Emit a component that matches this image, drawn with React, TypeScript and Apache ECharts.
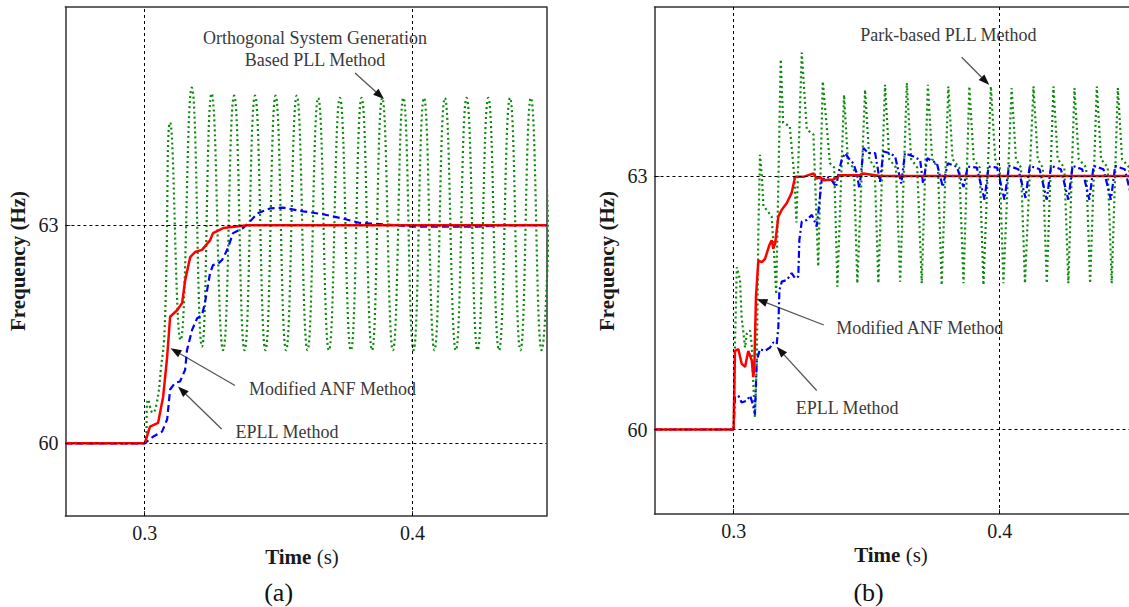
import React, { useEffect, useRef } from "react";
import * as echarts from "echarts";

const FONT = "Liberation Serif";

// axis ranges and tick values
const xTickValues = [0.3, 0.4];
const yTickValues = [60, 63];
const xRangeA = [0.2704, 0.45];
const yRangeA = [59, 66];
const xRangeB = [0.27026, 0.4486];
const yRangeB = [59, 65];

// ---------- panel (a) ----------
const greenA: number[][] = [
  [0.2704, 60], [0.3, 60], [0.3013, 60.6], [0.303, 60.42], [0.3045, 60.55], [0.306, 61.0], [0.3075, 61.6],
  [0.3095, 64.41], [0.3134, 61.42], [0.3176, 64.89], [0.3214, 61.33], [0.325, 64.81], [0.3293, 61.28],
  [0.3334, 64.78], [0.3373, 61.28], [0.3412, 64.78], [0.3451, 61.28], [0.3489, 64.78], [0.3528, 61.28],
  [0.3568, 64.78], [0.3608, 61.28], [0.3648, 64.75], [0.3688, 61.28], [0.3729, 64.75], [0.377, 61.28],
  [0.381, 64.75], [0.3849, 61.28], [0.3887, 64.75], [0.3927, 61.28], [0.3966, 64.75], [0.4004, 61.28],
  [0.4043, 64.75], [0.4082, 61.28], [0.4121, 64.75], [0.4162, 61.28], [0.4202, 64.75], [0.4243, 61.28],
  [0.4283, 64.75], [0.4323, 61.28], [0.4364, 64.75], [0.4403, 61.28], [0.4442, 64.75], [0.4482, 61.28],
  [0.4522, 64.75],
];
const blueA: number[][] = [
  [0.2704, 60], [0.3, 60], [0.3031, 60.09], [0.3065, 60.16], [0.3084, 60.33], [0.3095, 60.74], [0.3113, 60.83],
  [0.3132, 60.85], [0.3151, 61.01], [0.3158, 61.28], [0.3177, 61.56], [0.3196, 61.72], [0.3214, 61.76],
  [0.3225, 61.93], [0.3244, 62.34], [0.3255, 62.45], [0.3274, 62.47], [0.3289, 62.52], [0.3308, 62.66],
  [0.333, 62.89], [0.3367, 62.96], [0.3386, 63.02], [0.342, 63.16], [0.3468, 63.23], [0.3517, 63.24],
  [0.3592, 63.19], [0.3666, 63.15], [0.3741, 63.09], [0.3804, 63.03], [0.3853, 63.02], [0.4002, 62.98],
  [0.4241, 62.98], [0.4327, 63.0], [0.45, 63.0],
];
const redA: number[][] = [
  [0.2704, 60], [0.3, 60], [0.302, 60.23], [0.305, 60.28], [0.3069, 60.64], [0.3084, 61.19], [0.3095, 61.74],
  [0.3121, 61.83], [0.314, 61.93], [0.3151, 62.24], [0.317, 62.56], [0.3188, 62.63], [0.3214, 62.66],
  [0.3244, 62.79], [0.3255, 62.89], [0.3293, 62.96], [0.3382, 63.0], [0.45, 63.0],
];

// ---------- panel (b) ----------
const greenB: number[][] = [
  [0.2703, 60], [0.3, 60], [0.3005, 61.0], [0.3012, 61.92], [0.3024, 61.77], [0.303, 61.33], [0.3043, 60.97],
  [0.3049, 61.13], [0.3062, 61.17], [0.3068, 61.0], [0.3074, 60.54], [0.308, 60.14], [0.3087, 60.78],
  [0.3093, 62.36], [0.3099, 63.25], [0.3106, 63.0], [0.3112, 62.64], [0.3124, 62.6], [0.3143, 62.52],
  [0.3152, 62.08], [0.316, 61.6], [0.3177, 64.38], [0.3186, 63.63], [0.3211, 63.59], [0.3228, 63.0],
  [0.3236, 62.45], [0.3256, 64.46], [0.3275, 63.55], [0.33, 63.49], [0.3318, 61.93], [0.3335, 64.12],
  [0.3362, 63.15], [0.3378, 63.1], [0.339, 61.69], [0.3415, 63.96], [0.343, 63.15], [0.3452, 63.1],
  [0.3465, 61.73], [0.3494, 64.02], [0.351, 63.2], [0.353, 63.1], [0.3544, 61.73], [0.3569, 64.08],
  [0.3585, 63.2], [0.361, 63.1], [0.3626, 61.75], [0.3651, 64.1], [0.3667, 63.2], [0.369, 63.1],
  [0.3707, 61.73], [0.373, 64.08], [0.3746, 63.2], [0.3768, 63.1], [0.3782, 61.71], [0.3807, 64.06],
  [0.3823, 63.2], [0.3848, 63.1], [0.3864, 61.73], [0.3886, 64.06], [0.3902, 63.2], [0.3925, 63.1],
  [0.3939, 61.71], [0.3967, 64.06], [0.3983, 63.2], [0.4, 63.1], [0.4014, 61.73], [0.4045, 64.04],
  [0.4061, 63.2], [0.408, 63.1], [0.4095, 61.73], [0.4127, 64.06], [0.4143, 63.2], [0.4162, 63.1],
  [0.4177, 61.73], [0.4202, 64.06], [0.4218, 63.2], [0.4243, 63.1], [0.4258, 61.73], [0.4281, 64.04],
  [0.4297, 63.2], [0.4325, 63.1], [0.434, 61.73], [0.4365, 64.06], [0.4381, 63.2], [0.4406, 63.1],
  [0.4421, 61.73], [0.4444, 64.04], [0.446, 63.2], [0.4487, 63.1], [0.4502, 61.73], [0.4525, 64.05],
];
const blueB: number[][] = [
  [0.2703, 60], [0.3, 60], [0.3005, 60.38], [0.3018, 60.4], [0.303, 60.32], [0.3049, 60.34], [0.3062, 60.4],
  [0.3072, 60.3], [0.308, 60.18], [0.3087, 60.82], [0.3099, 60.95], [0.3118, 60.93], [0.3137, 60.97],
  [0.3149, 61.03], [0.3162, 61.01], [0.3168, 61.21], [0.3172, 61.65], [0.3181, 61.75], [0.32, 61.77],
  [0.3218, 61.85], [0.3231, 61.79], [0.3243, 61.81], [0.3247, 62.24], [0.3256, 62.46], [0.3275, 62.48],
  [0.3294, 62.54], [0.3306, 62.45], [0.3312, 62.4], [0.3318, 62.56], [0.3331, 62.95], [0.335, 62.99],
  [0.3365, 62.97], [0.3385, 62.87], [0.3394, 63.03], [0.3406, 63.19], [0.3419, 63.27], [0.3437, 63.19],
  [0.345, 63.15], [0.3463, 63.03], [0.3472, 62.86], [0.3478, 63.0], [0.3488, 63.33], [0.3506, 63.27],
  [0.3532, 63.27], [0.355, 62.93], [0.3563, 63.29], [0.3588, 63.27], [0.3607, 63.23], [0.363, 62.91],
  [0.3644, 63.27], [0.3676, 63.23], [0.3701, 63.19], [0.3712, 62.91], [0.3728, 63.21], [0.3764, 63.15],
  [0.3786, 62.87], [0.3805, 63.15], [0.3839, 63.11], [0.3864, 62.87], [0.388, 63.11], [0.3914, 63.1],
  [0.3943, 62.72], [0.3958, 63.11], [0.399, 63.1], [0.4018, 62.72], [0.4035, 63.12], [0.407, 63.08],
  [0.4097, 62.74], [0.4113, 63.12], [0.415, 63.08], [0.4177, 62.72], [0.4193, 63.12], [0.423, 63.08],
  [0.4258, 62.72], [0.4274, 63.12], [0.431, 63.08], [0.4337, 62.72], [0.4353, 63.12], [0.439, 63.08],
  [0.4418, 62.72], [0.4434, 63.12], [0.447, 63.08], [0.4498, 62.72], [0.4514, 63.12],
];
const redB: number[][] = [
  [0.2703, 60], [0.3, 60], [0.3005, 60.93], [0.3018, 60.95], [0.303, 60.78], [0.3043, 60.74], [0.3055, 60.93],
  [0.3068, 60.82], [0.3074, 60.62], [0.3078, 60.75], [0.3084, 61.57], [0.3093, 62.0], [0.3106, 61.98],
  [0.3118, 62.02], [0.3134, 62.18], [0.3143, 62.24], [0.3149, 62.14], [0.3156, 62.2], [0.3168, 62.52],
  [0.3181, 62.6], [0.32, 62.68], [0.3218, 62.8], [0.3231, 62.99], [0.3262, 62.99], [0.3281, 63.01],
  [0.33, 63.03], [0.3312, 62.97], [0.3325, 62.99], [0.3337, 62.95], [0.3375, 62.96], [0.34, 63.01],
  [0.3475, 63.01], [0.3488, 63.03], [0.355, 63.0], [0.47, 63.0],
];

const TEXT_GREY = "#3a3a3a";
const FRAME = "#333";

function arrow(x1: number, y1: number, x2: number, y2: number) {
  const dx = x2 - x1;
  const dy = y2 - y1;
  const L = Math.hypot(dx, dy);
  const ux = dx / L;
  const uy = dy / L;
  const hl = 11;
  const hw = 4;
  const bx = x2 - ux * hl;
  const by = y2 - uy * hl;
  return [
    { type: "line", silent: true, shape: { x1, y1, x2: bx, y2: by }, style: { stroke: "#555", lineWidth: 1.3 } },
    {
      type: "polygon",
      silent: true,
      shape: { points: [[x2, y2], [bx - uy * hw, by + ux * hw], [bx + uy * hw, by - ux * hw]] },
      style: { fill: "#111" },
    },
  ];
}

function text(x: number, y: number, t: string, size: number, extra: any = {}) {
  return {
    type: "text",
    silent: true,
    x,
    y,
    rotation: extra.rotation || 0,
    style: {
      text: t,
      fontSize: size,
      fontFamily: FONT,
      fontWeight: extra.fontWeight || "normal",
      fill: extra.fill || TEXT_GREY,
      align: "center",
      verticalAlign: "middle",
      textAlign: "center",
      textVerticalAlign: "middle",
      rich: extra.rich,
    },
  };
}

function xAxis(gridIndex: number, range: number[]) {
  return {
    type: "value",
    gridIndex,
    min: range[0],
    max: range[1],
    axisLine: { show: true, onZero: false, lineStyle: { color: FRAME, width: 1.5 } },
    axisTick: { show: true, inside: true, length: 5, customValues: xTickValues, lineStyle: { color: FRAME } },
    axisLabel: {
      customValues: xTickValues,
      formatter: (v: number) => v.toFixed(1),
      fontSize: 20,
      fontFamily: FONT,
      color: "#1a1a1a",
      margin: 7,
    },
    splitLine: { show: false },
  };
}

function frameAxisX(gridIndex: number, range: number[]) {
  return {
    type: "value",
    gridIndex,
    position: "top",
    min: range[0],
    max: range[1],
    axisLine: { show: true, onZero: false, lineStyle: { color: FRAME, width: 1.5 } },
    axisTick: { show: false },
    axisLabel: { show: false },
    splitLine: { show: false },
  };
}

function yAxis(gridIndex: number, range: number[]) {
  return {
    type: "value",
    gridIndex,
    min: range[0],
    max: range[1],
    axisLine: { show: true, onZero: false, lineStyle: { color: FRAME, width: 1.5 } },
    axisTick: { show: true, inside: true, length: 5, customValues: yTickValues, lineStyle: { color: FRAME } },
    axisLabel: {
      customValues: yTickValues,
      formatter: (v: number) => String(v),
      fontSize: 20,
      fontFamily: FONT,
      color: "#1a1a1a",
      margin: 7,
    },
    splitLine: { show: false },
  };
}

function frameAxisY(gridIndex: number, range: number[]) {
  return {
    type: "value",
    gridIndex,
    position: "right",
    min: range[0],
    max: range[1],
    axisLine: { show: true, onZero: false, lineStyle: { color: FRAME, width: 1.5 } },
    axisTick: { show: false },
    axisLabel: { show: false },
    splitLine: { show: false },
  };
}

function refLines() {
  return {
    silent: true,
    symbol: ["none", "none"],
    label: { show: false },
    lineStyle: { color: "#000", type: [3, 3], width: 1 },
    data: [...xTickValues.map((v) => ({ xAxis: v })), ...yTickValues.map((v) => ({ yAxis: v }))],
  };
}

export default function App() {
  const ref = useRef<HTMLDivElement>(null);

  useEffect(() => {
    if (!ref.current) return;
    const chart = echarts.init(ref.current, null, { renderer: "svg" });

    const timeRich = {
      b: { fontSize: 21, fontFamily: FONT, fontWeight: "bold", fill: "#1a1a1a" },
      r: { fontSize: 21, fontFamily: FONT, fontWeight: "normal", fill: "#1a1a1a" },
    };

    const option: any = {
      animation: false,
      backgroundColor: "#fff",
      textStyle: { fontFamily: FONT },
      grid: [
        { left: 65.4, top: 7, width: 481, height: 509, show: false },
        { left: 654.5, top: 7, right: 0, height: 507, show: false },
      ],
      xAxis: [xAxis(0, xRangeA), xAxis(1, xRangeB), frameAxisX(0, xRangeA), frameAxisX(1, xRangeB)],
      yAxis: [yAxis(0, yRangeA), yAxis(1, yRangeB), frameAxisY(0, yRangeA)],
      series: [
        {
          type: "line", xAxisIndex: 0, yAxisIndex: 0, data: greenA, smooth: 0.5, symbol: "none", z: 2,
          lineStyle: { color: "#0a8a0a", width: 2.2, type: [2, 3] }, markLine: refLines(),
        },
        {
          type: "line", xAxisIndex: 0, yAxisIndex: 0, data: blueA, symbol: "none", z: 3,
          lineStyle: { color: "#0000ff", width: 2.2, type: [7, 4] },
        },
        {
          type: "line", xAxisIndex: 0, yAxisIndex: 0, data: redA, symbol: "none", z: 4,
          lineStyle: { color: "#ff0000", width: 2.5 },
        },
        {
          type: "line", xAxisIndex: 1, yAxisIndex: 1, data: greenB, symbol: "none", z: 2,
          lineStyle: { color: "#0a8a0a", width: 2.2, type: [2, 3] }, markLine: refLines(),
        },
        {
          type: "line", xAxisIndex: 1, yAxisIndex: 1, data: blueB, symbol: "none", z: 3,
          lineStyle: { color: "#0000ff", width: 2.2, type: [7, 3, 2, 3] },
        },
        {
          type: "line", xAxisIndex: 1, yAxisIndex: 1, data: redB, symbol: "none", z: 4,
          lineStyle: { color: "#ff0000", width: 2.5 },
        },
      ],
      graphic: [
        // axis names
        text(18.3, 261, "Frequency (Hz)", 21, { rotation: Math.PI / 2, fontWeight: "bold", fill: "#1a1a1a" }),
        text(607.4, 261, "Frequency (Hz)", 21, { rotation: Math.PI / 2, fontWeight: "bold", fill: "#1a1a1a" }),
        text(302, 557, "{b|Time} {r|(s)}", 21, { rich: timeRich, fill: "#1a1a1a" }),
        text(891, 555, "{b|Time} {r|(s)}", 21, { rich: timeRich, fill: "#1a1a1a" }),
        text(278.6, 592, "(a)", 26, { fill: "#111" }),
        text(868.6, 592, "(b)", 26, { fill: "#111" }),
        // annotations panel (a)
        text(315, 37.5, "Orthogonal System Generation", 18),
        text(315, 59.5, "Based PLL Method", 18),
        ...arrow(355, 73, 384, 99),
        text(332.5, 388.5, "Modified ANF Method", 18),
        ...arrow(235, 385.5, 170.5, 348.3),
        text(287, 431.7, "EPLL Method", 18),
        ...arrow(221.6, 429, 178, 386.5),
        // annotations panel (b)
        text(948.4, 35, "Park-based PLL Method", 18),
        ...arrow(961.7, 57.3, 989.3, 85),
        text(919.7, 328.3, "Modified ANF Method", 18),
        ...arrow(823.8, 325, 756.5, 299),
        text(847.2, 407.7, "EPLL Method", 18),
        ...arrow(816.7, 390.5, 776.7, 346.7),
      ],
    };

    chart.setOption(option);
    return () => chart.dispose();
  }, []);

  return (
    <div
      ref={ref}
      style={{ position: "absolute", left: 0, top: 0, width: 1129, height: 607, background: "#fff" }}
    />
  );
}
